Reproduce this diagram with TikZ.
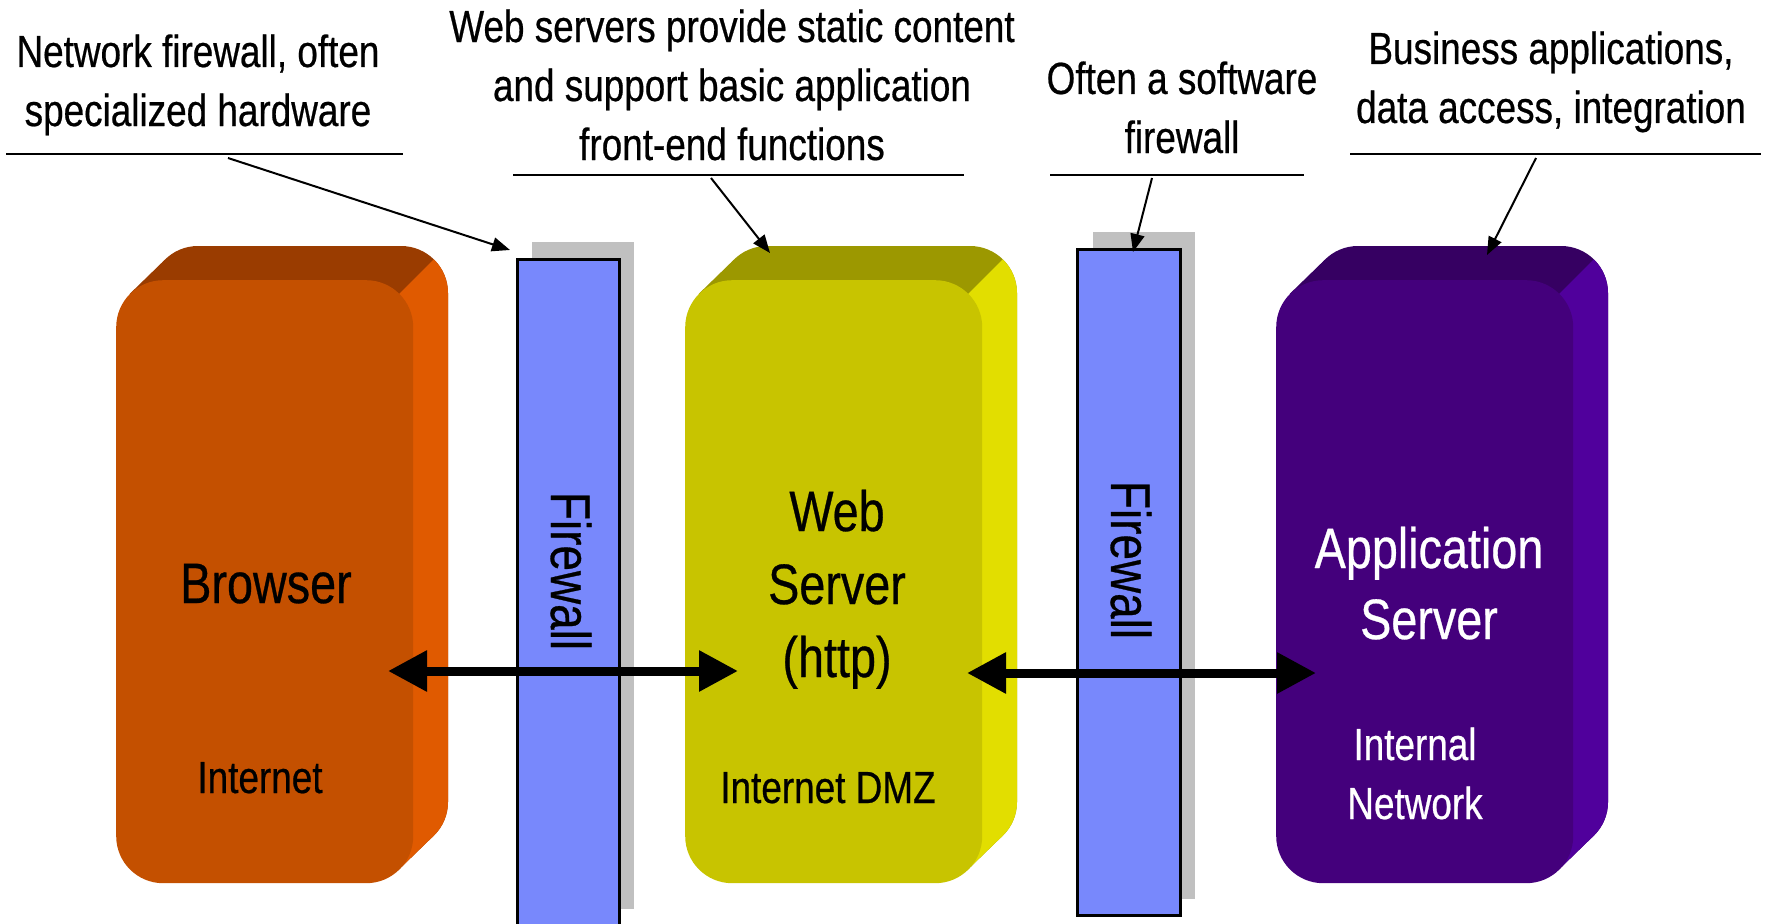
\documentclass[tikz,border=0pt]{standalone}
\usepackage{fontspec}
\setmainfont{Liberation Sans}[FakeStretch=0.82,FakeBold=0.5]
\usetikzlibrary{arrows.meta}
\definecolor{brFront}{HTML}{C45000}
\definecolor{brTop}{HTML}{9A3C00}
\definecolor{brSide}{HTML}{E05A00}
\definecolor{wsFront}{HTML}{C8C400}
\definecolor{wsTop}{HTML}{9C9800}
\definecolor{wsSide}{HTML}{E2DE00}
\definecolor{asFront}{HTML}{44007C}
\definecolor{asTop}{HTML}{360062}
\definecolor{asSide}{HTML}{50009C}
\definecolor{fwBlue}{HTML}{7888FC}
\definecolor{fwGrey}{HTML}{C0C0C0}
% extrusion of a server block: x0,y0,x1,y1 (front face), top colour, side colour
\newcommand\extrude[6]{%
  \fill[#5, rounded corners=47pt] (#1+35,#2-34) rectangle (#3+35,#4-34);
  \fill[#5] (#1+13.8,#2+13.8) -- (#1+48.8,#2-20.2) -- (#3+21.2,#4-47.8) -- (#3-13.8,#4-13.8) -- cycle;
  \begin{scope}
    \clip (#3-13.8,#2+13.8) -- ++(100,-100) -- ++(0,1100) -- ++(-1100,0) -- cycle;
    \fill[#6, rounded corners=47pt] (#1+35,#2-34) rectangle (#3+35,#4-34);
    \fill[#6] (#1+13.8,#2+13.8) -- (#1+48.8,#2-20.2) -- (#3+21.2,#4-47.8) -- (#3-13.8,#4-13.8) -- cycle;
  \end{scope}%
}
\begin{document}
\begin{tikzpicture}[x=1pt,y=-1pt,
  srvfront/.style={rounded corners=47pt, minimum width=297pt, minimum height=603pt, inner sep=0pt, anchor=north west},
  fwbox/.style={draw=black, line width=2.5pt, fill=fwBlue, inner sep=0pt, anchor=north west},
  fwshadow/.style={fill=fwGrey, inner sep=0pt, anchor=north west},
  caption/.style={font=\fontsize{45}{59}\selectfont, align=center, anchor=base, inner sep=0pt},
  big/.style={font=\fontsize{57}{73}\selectfont, align=center, anchor=base, inner sep=0pt},
  small/.style={font=\fontsize{45}{59}\selectfont, align=center, anchor=base, inner sep=0pt},
  fwtext/.style={font=\fontsize{56}{60}\selectfont, rotate=-90, inner sep=0pt},
  uline/.style={line width=2pt},
  callout/.style={line width=2pt, -{Triangle[length=18pt,width=14pt]}},
  flow/.style={line width=9pt, {Triangle[length=39pt,width=39pt]}-{Triangle[length=39pt,width=39pt]}}
]
\useasboundingbox (0,0) rectangle (1768,923);
\clip (0,0) rectangle (1768,923);

% server blocks
\extrude{116}{280}{413}{883}{brTop}{brSide}
\node[srvfront, fill=brFront] (browser) at (116,280) {};
\extrude{685}{280}{982}{883}{wsTop}{wsSide}
\node[srvfront, fill=wsFront] (web) at (685,280) {};
\extrude{1276}{280}{1573}{883}{asTop}{asSide}
\node[srvfront, fill=asFront] (app) at (1276,280) {};

% firewalls
\node[fwshadow, minimum width=102pt, minimum height=667pt] (fw1s) at (532,242) {};
\node[fwbox, minimum width=102pt, minimum height=690pt] (fw1) at (516,258) {};
\node[fwshadow, minimum width=102pt, minimum height=667pt] (fw2s) at (1093,232) {};
\node[fwbox, minimum width=103pt, minimum height=666pt] (fw2) at (1076,248) {};
\node[fwtext] (fw1t) at (571,571) {Firewall};
\node[fwtext] (fw2t) at (1131,560) {Firewall};

% flow arrows
\coordinate (brwport) at (388,671);
\coordinate (webportL) at (738,671);
\coordinate (webportR) at (967,673);
\coordinate (appport) at (1316,673);
\draw[flow] (brwport) -- (webportL);
\draw[flow] (webportR) -- (appport);

% block labels (anchor = baseline of the last line)
\node[big] (brlabel) at (266,603) {Browser};
\node[small] (brzone) at (260,793) {Internet};
\node[big] (wslabel) at (837,677) {Web\\Server\\(http)};
\node[small] (wszone) at (828,803) {Internet DMZ};
\node[big, text=white, font=\fontsize{57}{71}\selectfont] (aslabel) at (1429,639) {Application\\Server};
\node[small, text=white] (aszone) at (1415,819) {Internal\\Network};

% captions
\node[caption] (c1) at (198,126) {Network firewall, often\\specialized hardware};
\node[caption] (c2) at (732,160) {Web servers provide static content\\and support basic application\\front-end functions};
\node[caption] (c3) at (1182,153) {Often a software\\firewall};
\node[caption] (c4) at (1551,123) {Business applications,\\data access, integration};

% underlines
\coordinate (u1l) at (6,154);   \coordinate (u1r) at (403,154);
\coordinate (u2l) at (513,175); \coordinate (u2r) at (964,175);
\coordinate (u3l) at (1050,175);\coordinate (u3r) at (1304,175);
\coordinate (u4l) at (1350,154);\coordinate (u4r) at (1761,154);
\draw[uline] (u1l) -- (u1r);
\draw[uline] (u2l) -- (u2r);
\draw[uline] (u3l) -- (u3r);
\draw[uline] (u4l) -- (u4r);

% callouts
\coordinate (s1) at (228,158);  \coordinate (t1) at (510,250);
\coordinate (s2) at (711,178);  \coordinate (t2) at (770,253);
\coordinate (s3) at (1152,178); \coordinate (t3) at (1133,252);
\coordinate (s4) at (1536,158); \coordinate (t4) at (1487,255);
\draw[callout] (s1) -- (t1);
\draw[callout] (s2) -- (t2);
\draw[callout] (s3) -- (t3);
\draw[callout] (s4) -- (t4);
\end{tikzpicture}
\end{document}
